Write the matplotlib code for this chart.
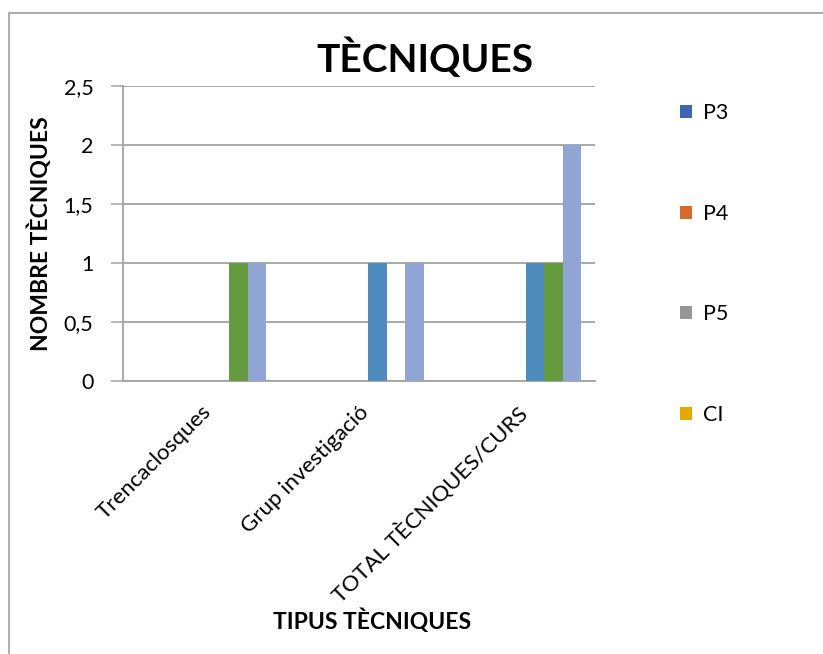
import numpy as np
import matplotlib.pyplot as plt
from matplotlib.patches import Patch, Rectangle

plt.rcParams['font.family'] = ['Lato', 'DejaVu Sans']

# data
categories = ["Trencaclosques", "Grup investigació", "TOTAL TÈCNIQUES/CURS"]
p3 = [0, 0, 0]
p4 = [0, 0, 0]
p5 = [0, 0, 0]
ci = [0, 0, 0]
serie5 = [0, 1, 1]
serie6 = [1, 0, 1]
serie7 = [1, 1, 2]
legend_names = ["P3", "P4", "P5", "CI"]
yticks = [0, 0.5, 1, 1.5, 2, 2.5]
ytick_labels = ["0", "0,5", "1", "1,5", "2", "2,5"]

series = [p3, p4, p5, ci, serie5, serie6, serie7]
legend_colors = ["#3F67B1", "#D56A2A", "#969696", "#E4AA00"]
colors = legend_colors + ["#508BBE", "#659A3E", "#91A5D4"]
grid_c = "#A3A3A3"

W, H = 823, 654
fig = plt.figure(figsize=(W / 100, H / 100), dpi=100)
ax = fig.add_axes([122.7 / W, 1 - 381 / H, (595 - 122.7) / W, (381 - 85.7) / H])

x = np.arange(len(categories))
w = 1 / 8.5
for i, vals in enumerate(series):
    ax.bar(x + (i - 3) * w, vals, width=w, color=colors[i], linewidth=0, zorder=3)

ax.set_xlim(-0.5, 2.5)
ax.set_ylim(0, 2.5)
ax.set_yticks(yticks)
ax.set_yticklabels(ytick_labels, fontsize=15.5)
ax.set_xticks(x)
ax.set_xticklabels(categories, rotation=45, ha="right", rotation_mode="anchor",
                   fontsize=16)
ax.tick_params(axis="x", length=0, pad=15)
ax.tick_params(axis="y", length=9, width=1.1, color=grid_c, pad=12)
ax.yaxis.grid(True, color=grid_c, linewidth=1.3, zorder=0)
for s in ["top", "right"]:
    ax.spines[s].set_visible(False)
for s in ["left", "bottom"]:
    ax.spines[s].set_color(grid_c)
    ax.spines[s].set_linewidth(1.3)

ax.set_ylabel("NOMBRE TÈCNIQUES", fontsize=16.5, fontweight="bold")
ax.yaxis.set_label_coords(-0.15, 0.5)

fig.text(372 / W, 1 - 621 / H, "TIPUS TÈCNIQUES", fontsize=16.5, fontweight="bold",
         ha="center", va="center")
fig.text(425 / W, 1 - 58 / H, "TÈCNIQUES", fontsize=28, fontweight="bold",
         ha="center", va="center")

handles = [Patch(facecolor=c, edgecolor="none") for c in legend_colors]
fig.legend(handles, legend_names, loc="upper left", bbox_to_anchor=(680 / W, 1 - 103 / H),
           frameon=False, fontsize=15.5, handlelength=0.55, handleheight=0.55,
           handletextpad=0.5, labelspacing=3.75, borderaxespad=0, borderpad=0)

fig.add_artist(Rectangle((9 / W, -0.1), 1.2, 1.1 - 13 / H, transform=fig.transFigure,
                         fill=False, edgecolor="#A6A6A6", linewidth=1.3))

fig.savefig("out.png", dpi=100)
